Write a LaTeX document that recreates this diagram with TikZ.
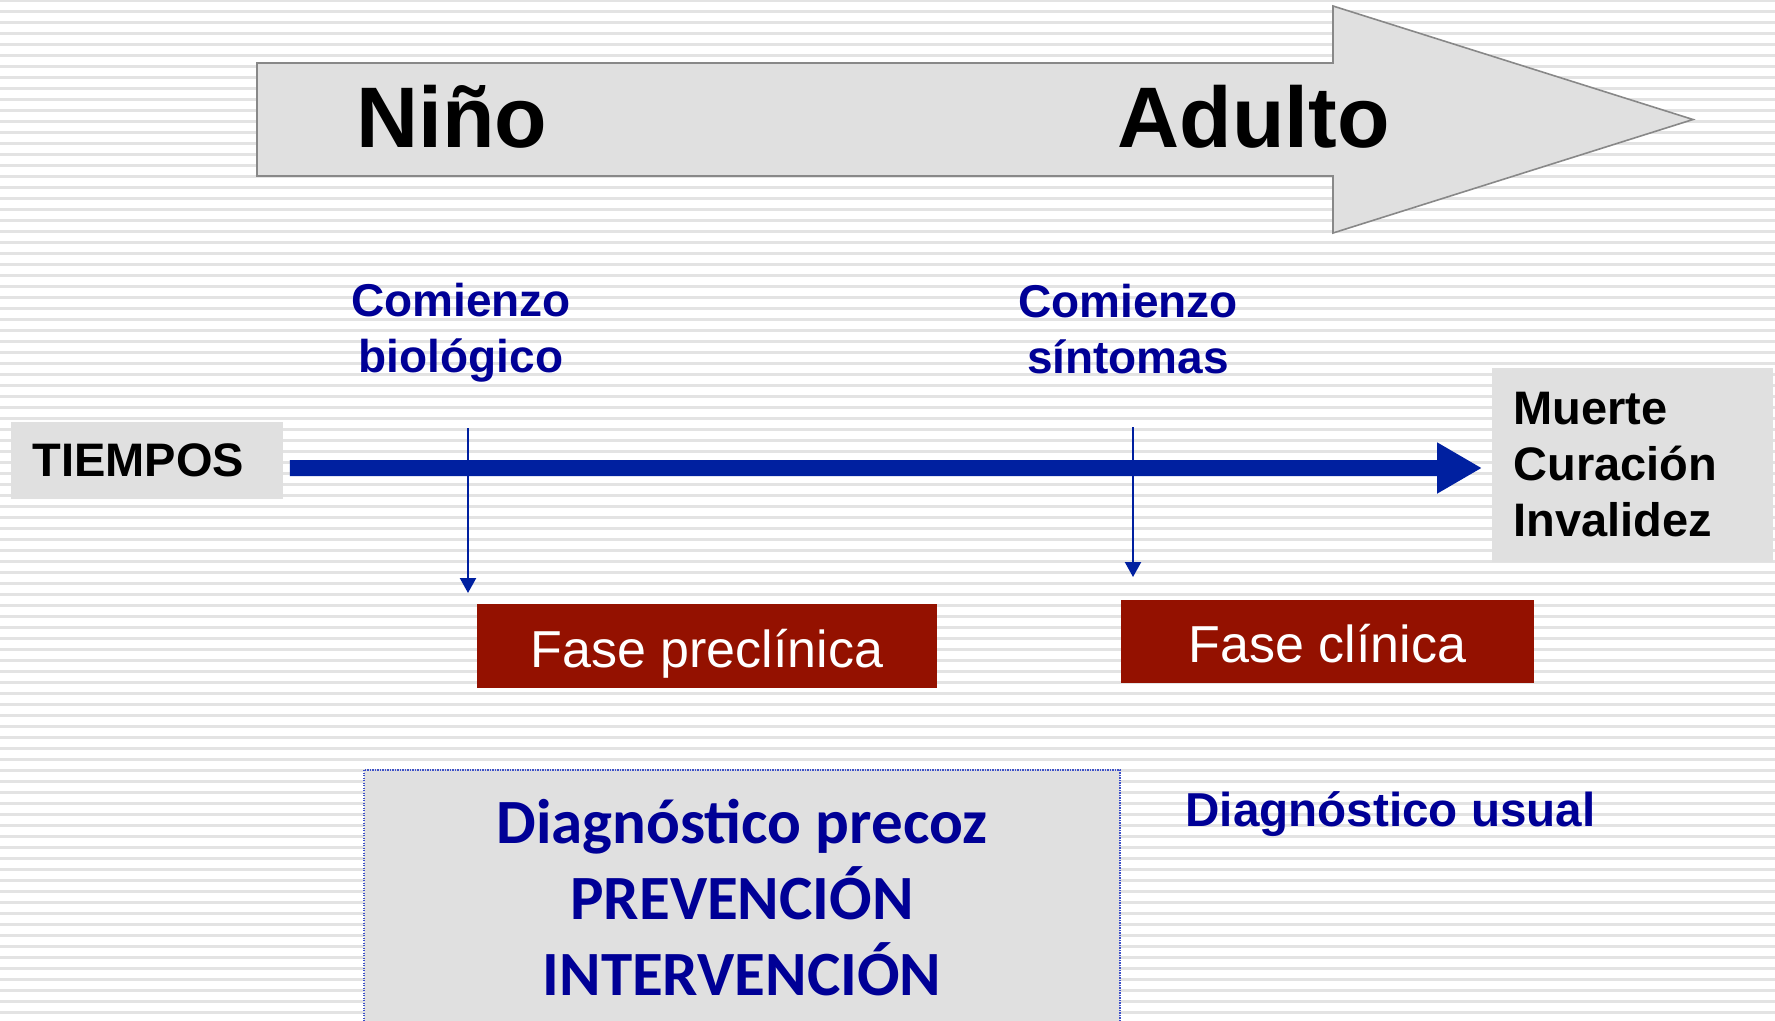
\documentclass[tikz,border=0pt]{standalone}
\usepackage{fontspec}
\setmainfont{Liberation Sans}
\newfontfamily\calibri{Carlito}
\usetikzlibrary{arrows.meta}
\definecolor{bandgray}{RGB}{227,227,227}
\definecolor{boxgray}{RGB}{224,224,224}
\definecolor{edgegray}{RGB}{136,136,136}
\definecolor{labelnavy}{RGB}{0,0,150}
\definecolor{lineblue}{RGB}{0,32,160}
\definecolor{fasered}{RGB}{148,17,0}
\definecolor{dotblue}{RGB}{60,80,200}
\tikzset{
  band/.style={draw=bandgray,line width=1.25bp},
  stage/.style={inner sep=0pt,font=\fontsize{43bp}{50bp}\selectfont\bfseries},
  onset/.style={inner sep=0pt,align=center,text=labelnavy,font=\fontsize{23bp}{28bp}\selectfont\bfseries},
  graybox/.style={fill=boxgray,draw=none,inner ysep=0pt,inner xsep=10.5bp,align=left,font=\fontsize{23.5bp}{28bp}\selectfont\bfseries},
  fasebox/.style={fill=fasered,text=white,inner sep=0pt,text height=26.5bp,text depth=5.5bp,font=\fontsize{26bp}{30bp}\selectfont},
  tick/.style={draw=lineblue,line width=1.1bp,-{Triangle[length=7.5bp,width=8bp]}},
}
\begin{document}
\begin{tikzpicture}[x=0.5bp,y=-0.5bp,line join=miter]
\useasboundingbox (0,0) rectangle (1775,1020);
%%
\foreach \k in {0,...,93}
  \draw[band] (0,11*\k+0.3) -- (1775,11*\k+0.3);
\draw[fill=boxgray,draw=edgegray,line width=0.8bp] (257,63) -- (1333,63) -- (1333,6) -- (1693,119.5) -- (1333,233) -- (1333,176) -- (257,176) -- cycle;
%
\node (nino) at (356,147) [stage,anchor=base west] {Niño};
  \node (adulto) at (1117,147) [stage,anchor=base west] {Adulto};
  \node (bio) at (461,372) [onset,anchor=base] {Comienzo\\biológico};
  \node (sintomas) at (1128,373) [onset,anchor=base] {Comienzo\\síntomas};
  \node (tiempos) at (11,460.5) [graybox,anchor=west,text width=115bp,minimum height=38.5bp] {TIEMPOS};
  \node (muerte) at (1492,465) [graybox,anchor=west,text width=119.5bp,minimum height=97bp] {Muerte\\Curación\\Invalidez};
  \node (preclinica) at (707,646) [fasebox,minimum width=230bp,minimum height=42bp] {Fase preclínica};
  \node (clinica) at (1327.5,641.5) [fasebox,minimum width=206.5bp,minimum height=41.5bp] {Fase clínica};
  \node (usual) at (1185,826) [anchor=base west,inner sep=0pt,text=labelnavy,font=\fontsize{23.8bp}{28bp}\selectfont\bfseries] {Diagnóstico usual};
  \coordinate (bioTop) at (468,428);
  \coordinate (bioEnd) at (468,593);
  \coordinate (sintTop) at (1133,427);
  \coordinate (sintEnd) at (1133,577);
%
\draw [draw=lineblue,line width=8bp,shorten <=3bp,shorten >=5bp,-{Triangle[length=22.5bp,width=24bp]}] ([yshift=-3.75bp]tiempos.east) -- ([yshift=-1.5bp]muerte.west);
  \draw [tick] (bioTop) -- (bioEnd);
  \draw [tick] (sintTop) -- (sintEnd);
%
\draw [fill=boxgray,draw=dotblue,line width=0.75bp,dash pattern=on 0.6bp off 0.65bp] (364,770) rectangle (1120,1040);
  \node (precoz) at (742,995) [anchor=base,inner sep=0pt,align=center,text=labelnavy,font=\calibri\bfseries\fontsize{31.5bp}{38bp}\selectfont] {Diagnóstico precoz\\PREVENCIÓN\\INTERVENCIÓN};
%
\end{tikzpicture}
\end{document}
